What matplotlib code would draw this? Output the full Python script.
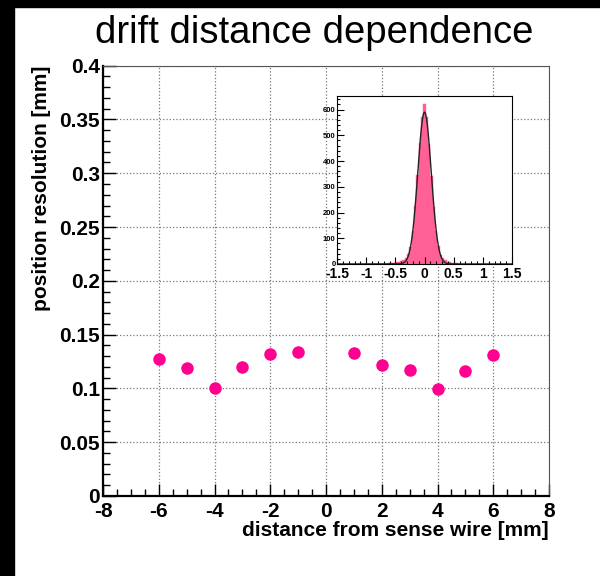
#Imports

import numpy as np
import matplotlib.pyplot as plt
from matplotlib.patches import Rectangle
from matplotlib.ticker import MultipleLocator

plt.rcParams['font.family'] = ['Liberation Sans', 'DejaVu Sans']
plt.rcParams['axes.unicode_minus'] = False

#Data

drift_distance = [-6, -5, -4, -3, -2, -1, 1, 2, 3, 4, 5, 6]
resolution = [0.127, 0.119, 0.100, 0.120, 0.132, 0.134,
              0.133, 0.122, 0.117, 0.099, 0.116, 0.131]

# residual histogram of the inset (bin width 0.04, centres -0.60 .. 0.60)
hist_centres = np.round(np.arange(-15, 16) * 0.04, 2)
hist_counts = [2, 3, 4, 6, 8, 11, 16, 25, 38, 66, 128, 225, 345, 470, 570,
               622, 572, 468, 342, 222, 130, 68, 36, 22, 14, 9, 6, 4, 3, 2, 1]

# gaussian fit on the inset
fit_amp = 590
fit_mean = 0.0
fit_sigma = 0.115

pink = '#ff0090'
hist_pink = '#ff6095'

#Figure

fig = plt.figure(figsize=(6, 5.76), dpi=100)
fig.patches.append(Rectangle((0, 0), 14 / 600, 1, transform=fig.transFigure,
                             color='black', zorder=0))
fig.patches.append(Rectangle((0, 1 - 7 / 576), 1, 7 / 576, transform=fig.transFigure,
                             color='black', zorder=0))

fig.text(0.524, 1 - 43 / 576, "drift distance dependence", ha='center', va='baseline',
         fontsize=27.5)

# main plot
ax = fig.add_axes([0.1717, 0.1389, 0.7433, 0.7471])
ax.plot(drift_distance, resolution, 'o', color=pink, ms=9, mec='none', zorder=3)
ax.set_xlim(-8, 8)
ax.set_ylim(0, 0.4)
ax.xaxis.set_major_locator(MultipleLocator(2))
ax.xaxis.set_minor_locator(MultipleLocator(0.5))
ax.yaxis.set_minor_locator(MultipleLocator(0.01))
ax.set_yticks(np.arange(0, 0.401, 0.05))
ax.set_yticklabels(['0', '0.05', '0.1', '0.15', '0.2', '0.25', '0.3', '0.35', '0.4'])
ax.tick_params(which='both', direction='in', top=False, right=False, labelsize=15)
ax.tick_params(axis='x', pad=4)
ax.tick_params(axis='y', pad=2)
ax.tick_params(which='major', length=9, width=1)
ax.tick_params(which='minor', length=5, width=1)
for lab in ax.get_xticklabels() + ax.get_yticklabels():
    lab.set_fontweight('bold')
ax.grid(True, which='major', linestyle=':', color='#777777', linewidth=0.9)
ax.spines['left'].set_linewidth(1.6)
ax.spines['bottom'].set_linewidth(1.6)
ax.spines['top'].set_color('#555555')
ax.spines['right'].set_color('#555555')
ax.set_xlabel("distance from sense wire [mm]", fontsize=15, fontweight='bold',
              loc='right', labelpad=0)
ax.set_ylabel("position resolution [mm]", fontsize=15, fontweight='bold',
              loc='top', labelpad=6)

# inset
inset = fig.add_axes([0.5617, 0.5417, 0.2917, 0.2917])
inset.bar(hist_centres, hist_counts, width=0.04, color=hist_pink,
          edgecolor=hist_pink, linewidth=0.3)
xs = np.linspace(-1.5, 1.5, 600)
inset.plot(xs, fit_amp * np.exp(-0.5 * ((xs - fit_mean) / fit_sigma) ** 2),
           color='#222222', lw=1)
inset.set_xlim(-1.5, 1.5)
inset.set_ylim(0, 653)
inset.xaxis.set_minor_locator(MultipleLocator(0.1))
inset.yaxis.set_major_locator(MultipleLocator(100))
inset.yaxis.set_minor_locator(MultipleLocator(20))
inset.set_xticks([-1.5, -1, -0.5, 0, 0.5, 1, 1.5])
inset.set_xticklabels(['-1.5', '-1', '-0.5', '0', '0.5', '1', '1.5'])
inset.tick_params(which='both', direction='in', top=False, right=False)
inset.tick_params(which='major', length=5, width=0.8)
inset.tick_params(which='minor', length=2.5, width=0.8)
inset.tick_params(axis='x', labelsize=10, pad=2)
inset.tick_params(axis='y', labelsize=5.5, pad=1)
for lab in inset.get_xticklabels() + inset.get_yticklabels():
    lab.set_fontweight('bold')

fig.savefig("out.png", dpi=100)
